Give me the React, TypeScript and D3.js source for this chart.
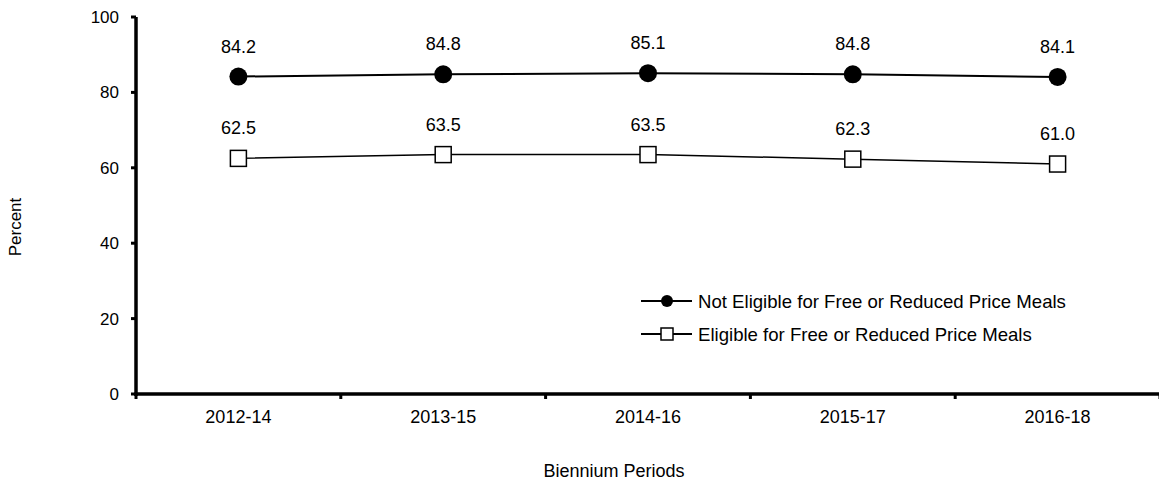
import { scaleBand, scaleLinear, line } from "d3";

const periods = ["2012-14", "2013-15", "2014-16", "2015-17", "2016-18"];
const notEligible = [84.2, 84.8, 85.1, 84.8, 84.1];
const eligible = [62.5, 63.5, 63.5, 62.3, 61.0];
const yTicks = [0, 20, 40, 60, 80, 100];

const width = 1159;
const height = 481;
const margin = { top: 17, bottom: 87, left: 136, right: -1 };

const innerHeight = height - margin.top - margin.bottom;
const innerWidth = width - margin.left - margin.right;
const font = "Liberation Sans, Arial, sans-serif";

export default function App() {
  const xScale = scaleBand().domain(periods).range([0, innerWidth]);
  const yScale = scaleLinear().domain([0, 100]).range([innerHeight, 0]);
  const cx = (p: string) => (xScale(p) ?? 0) + xScale.bandwidth() / 2;

  const pathFor = (vals: number[]) =>
    line<number>()
      .x((_, i) => cx(periods[i]))
      .y((d) => yScale(d))(vals) ?? "";

  const boundaries = periods.map((p) => xScale(p) ?? 0).concat([innerWidth]);

  return (
    <svg
      width={width}
      height={height}
      style={{ position: "absolute", left: 0, top: 0, fontFamily: font }}
    >
      <g transform={`translate(${margin.left}, ${margin.top})`}>
        {yTicks.map((t) => (
          <g key={t} transform={`translate(0, ${yScale(t)})`}>
            <line x1={-5} x2={0} stroke="#000" strokeWidth={3} />
            <text x={-17} dy="0.35em" textAnchor="end" fontSize={17}>
              {t}
            </text>
          </g>
        ))}
        {boundaries.map((b, i) => (
          <line
            key={i}
            x1={b}
            x2={b}
            y1={innerHeight}
            y2={innerHeight + 5}
            stroke="#000"
            strokeWidth={3}
          />
        ))}
        {periods.map((p) => (
          <text
            key={p}
            x={cx(p)}
            y={innerHeight + 29}
            textAnchor="middle"
            fontSize={18}
          >
            {p}
          </text>
        ))}
        <line x1={0} x2={0} y1={0} y2={innerHeight + 2} stroke="#000" strokeWidth={3.5} />
        <line x1={-1.5} x2={innerWidth} y1={innerHeight} y2={innerHeight} stroke="#000" strokeWidth={3.5} />

        <path d={pathFor(notEligible)} fill="none" stroke="#000" strokeWidth={2} />
        <path d={pathFor(eligible)} fill="none" stroke="#000" strokeWidth={1.5} />

        {notEligible.map((v, i) => (
          <g key={"n" + i}>
            <circle cx={cx(periods[i])} cy={yScale(v)} r={9} fill="#000" />
            <text
              x={cx(periods[i])}
              y={yScale(v) - 24}
              textAnchor="middle"
              fontSize={18}
            >
              {v.toFixed(1)}
            </text>
          </g>
        ))}
        {eligible.map((v, i) => (
          <g key={"e" + i}>
            <rect
              x={cx(periods[i]) - 8}
              y={yScale(v) - 8}
              width={16}
              height={16}
              fill="#fff"
              stroke="#000"
              strokeWidth={1.5}
            />
            <text
              x={cx(periods[i])}
              y={yScale(v) - 24}
              textAnchor="middle"
              fontSize={18}
            >
              {v.toFixed(1)}
            </text>
          </g>
        ))}
      </g>

      <g transform="translate(641, 301)">
        <line x1={0} x2={51} y1={0} y2={0} stroke="#000" strokeWidth={2} />
        <circle cx={26} cy={0} r={6} fill="#000" />
        <text x={57} dy="0.35em" fontSize={18.6}>
          Not Eligible for Free or Reduced Price Meals
        </text>
      </g>
      <g transform="translate(641, 334)">
        <line x1={0} x2={51} y1={0} y2={0} stroke="#000" strokeWidth={2} />
        <rect x={20} y={-6} width={12} height={12} fill="#fff" stroke="#000" strokeWidth={1.5} />
        <text x={57} dy="0.35em" fontSize={18.6}>
          Eligible for Free or Reduced Price Meals
        </text>
      </g>

      <text
        transform="translate(21, 227) rotate(-90)"
        textAnchor="middle"
        fontSize={17}
      >
        Percent
      </text>
      <text x={614} y={477} textAnchor="middle" fontSize={18}>
        Biennium Periods
      </text>
    </svg>
  );
}
